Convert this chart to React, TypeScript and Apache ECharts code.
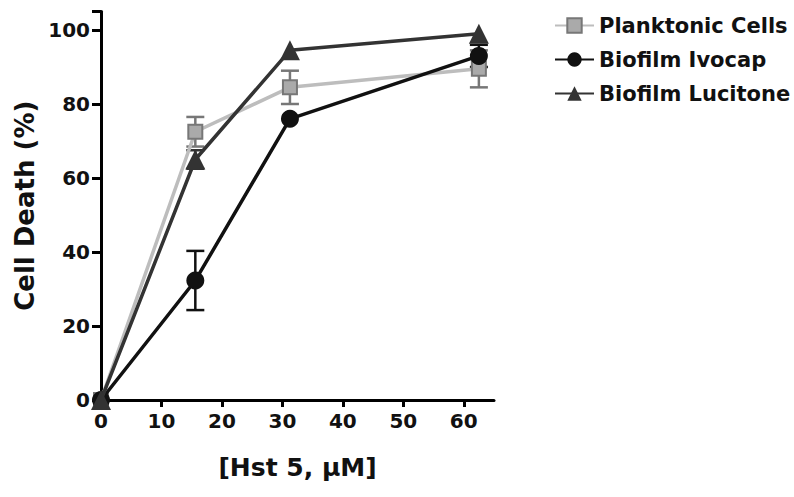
import React, { useEffect, useRef } from "react";
import * as echarts from "echarts";

const doses = [0, 15.6, 31.25, 62.5];
const planktonic = [0, 72.5, 84.5, 89.5];
const planktonicErr = [0, 4, 4.5, 5];
const ivocap = [0, 32.3, 76, 93];
const ivocapErr = [0, 8, 0, 3];
const lucitone = [0, 65, 94.5, 99];
const lucitoneErr = [0, 2.5, 0, 0];
const yTicks = [0, 20, 40, 60, 80, 100];
const xTicks = [0, 10, 20, 30, 40, 50, 60];

const FONT = "DejaVu Sans, Liberation Sans, Arial, sans-serif";

function errSeries(vals: number[], errs: number[], color: string, z: number) {
  const data = doses.map((d, i) => [d, vals[i] - errs[i], vals[i] + errs[i], errs[i]]);
  return {
    type: "custom",
    z,
    silent: true,
    data,
    renderItem: (params: any, api: any) => {
      const e = api.value(3);
      if (!e) return { type: "group", children: [] };
      const x = api.value(0);
      const lo = api.coord([x, api.value(1)]);
      const hi = api.coord([x, api.value(2)]);
      const w = 9;
      const st = { stroke: color, lineWidth: 2.5 };
      return {
        type: "group",
        children: [
          { type: "line", shape: { x1: lo[0], y1: lo[1], x2: hi[0], y2: hi[1] }, style: st },
          { type: "line", shape: { x1: lo[0] - w, y1: lo[1], x2: lo[0] + w, y2: lo[1] }, style: st },
          { type: "line", shape: { x1: hi[0] - w, y1: hi[1], x2: hi[0] + w, y2: hi[1] }, style: st },
        ],
      };
    },
  };
}

export default function App() {
  const ref = useRef<HTMLDivElement>(null);
  useEffect(() => {
    const chart = echarts.init(ref.current!, null, { renderer: "svg" });
    const pts = (v: number[]) => doses.map((d, i) => [d, v[i]]);
    chart.setOption({
      animation: false,
      backgroundColor: "#ffffff",
      grid: { left: 101, right: 300, top: 11.5, bottom: 97, containLabel: false },
      legend: {
        orient: "vertical",
        left: 549,
        top: 10,
        itemGap: 13,
        itemWidth: 39,
        itemHeight: 18,
        textStyle: { fontFamily: FONT, fontWeight: "bold", fontSize: 21, color: "#111" },
        data: ["Planktonic Cells", "Biofilm Ivocap", "Biofilm Lucitone"],
      },
      xAxis: {
        type: "value",
        min: 0,
        max: 65,
        interval: 10,
        splitLine: { show: false },
        axisLine: { onZero: false, lineStyle: { color: "#000", width: 3 } },
        axisTick: { show: true, length: 7, lineStyle: { color: "#000", width: 3 } },
        axisLabel: {
          fontFamily: FONT,
          fontWeight: "bold",
          fontSize: 20,
          color: "#111",
          margin: 11,
          showMaxLabel: false,
          formatter: (v: number) => (xTicks.includes(v) ? String(v) : ""),
        },
        name: "[Hst 5, \u03bcM]",
        nameLocation: "middle",
        nameGap: 55,
        nameTextStyle: { fontFamily: FONT, fontWeight: "bold", fontSize: 25, color: "#111" },
      },
      yAxis: {
        type: "value",
        min: 0,
        max: 105,
        interval: 20,
        splitLine: { show: false },
        axisLine: { onZero: false, lineStyle: { color: "#000", width: 3 } },
        axisTick: { show: true, length: 9, lineStyle: { color: "#000", width: 3 } },
        axisLabel: {
          fontFamily: FONT,
          fontWeight: "bold",
          fontSize: 20,
          color: "#111",
          margin: 11,
          formatter: (v: number) => (yTicks.includes(v) ? String(v) : ""),
        },
        name: "Cell Death (%)",
        nameLocation: "middle",
        nameGap: 63,
        nameTextStyle: { fontFamily: FONT, fontWeight: "bold", fontSize: 26, color: "#111" },
      },
      series: [
        errSeries(planktonic, planktonicErr, "#777777", 2),
        errSeries(ivocap, ivocapErr, "#111111", 2),
        errSeries(lucitone, lucitoneErr, "#333333", 2),
        {
          name: "Planktonic Cells",
          type: "line",
          z: 3,
          data: pts(planktonic),
          symbol: "rect",
          symbolSize: 14,
          lineStyle: { color: "#bdbdbd", width: 3.5 },
          itemStyle: { color: "#aaaaaa", borderColor: "#777777", borderWidth: 2 },
        },
        {
          name: "Biofilm Ivocap",
          type: "line",
          z: 4,
          data: pts(ivocap),
          symbol: "circle",
          symbolSize: 18,
          lineStyle: { color: "#111111", width: 3.5 },
          itemStyle: { color: "#111111" },
        },
        {
          name: "Biofilm Lucitone",
          type: "line",
          z: 5,
          data: pts(lucitone),
          symbol: "triangle",
          symbolSize: 20,
          lineStyle: { color: "#333333", width: 3.5 },
          itemStyle: { color: "#333333" },
        },
      ],
    });
    return () => chart.dispose();
  }, []);
  return <div ref={ref} style={{ width: 794, height: 497, position: "absolute", left: 0, top: 0 }} />;
}
